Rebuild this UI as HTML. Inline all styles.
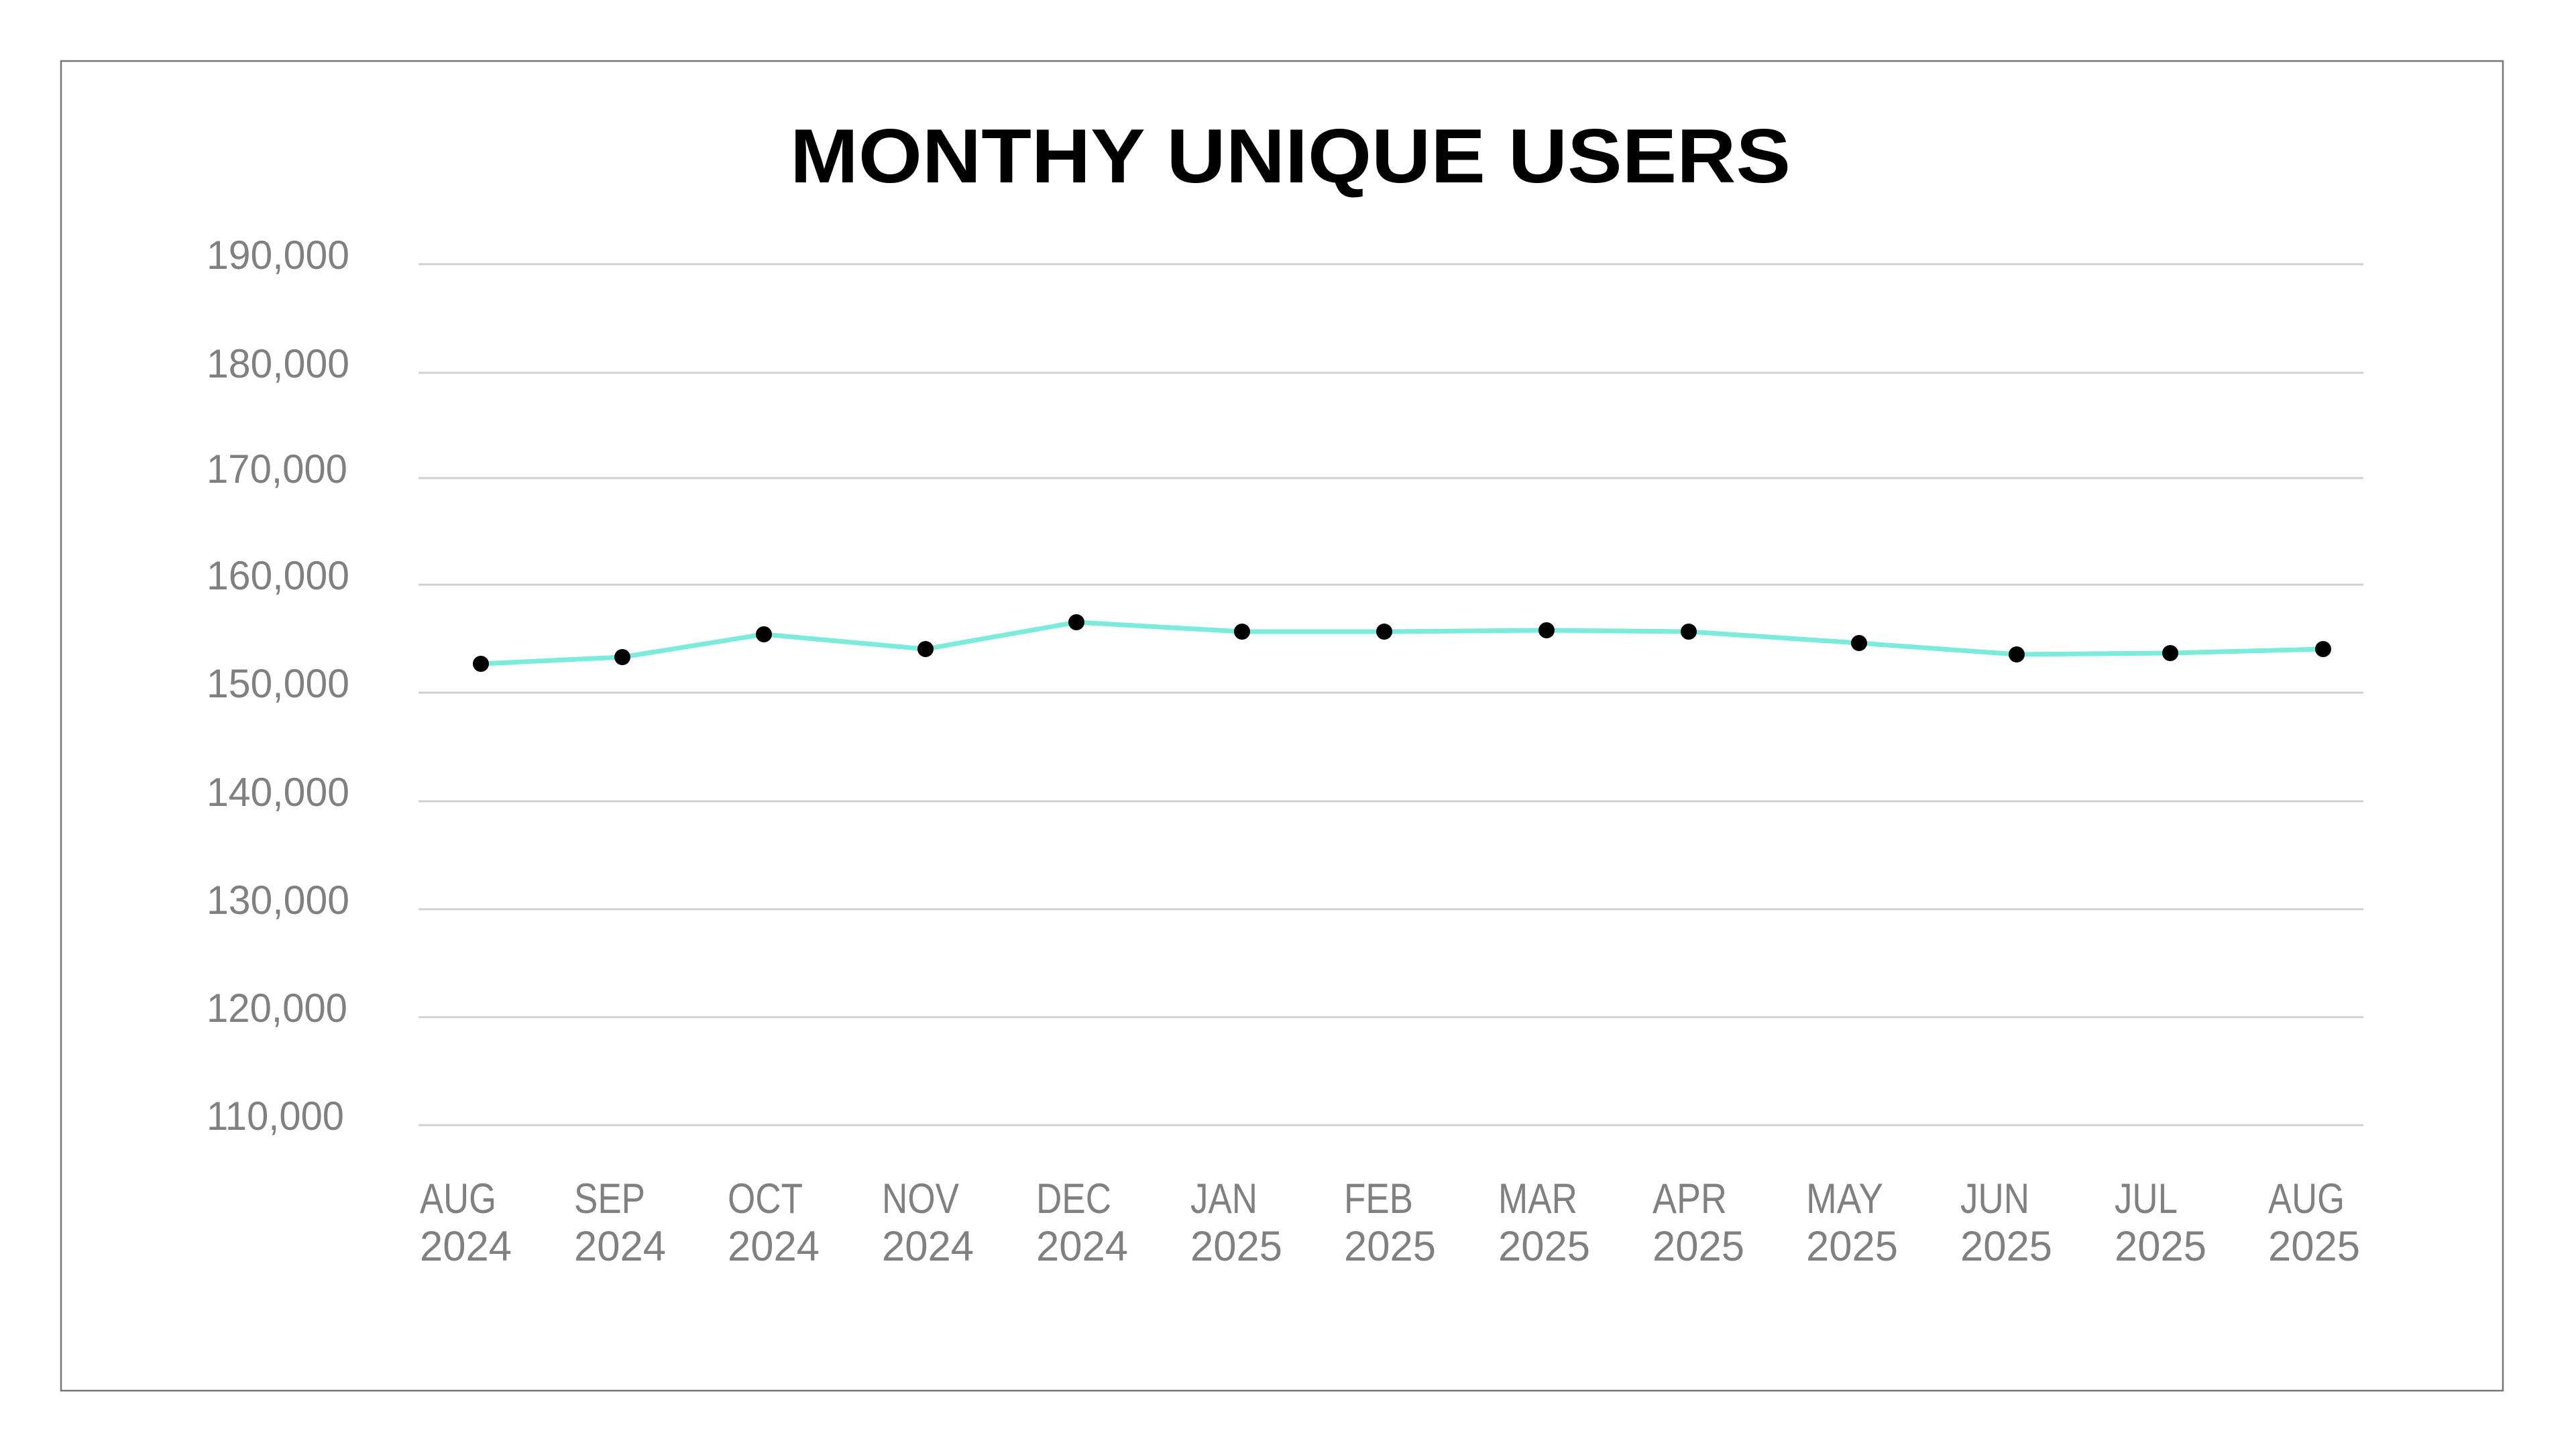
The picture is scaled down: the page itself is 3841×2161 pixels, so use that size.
<!DOCTYPE html>
<html><head><meta charset="utf-8"><style>
html,body{margin:0;padding:0;background:#fff;}
svg{display:block;}
</style></head><body>
<svg width="3841" height="2161" viewBox="0 0 3841 2161" xmlns="http://www.w3.org/2000/svg">
<rect x="0" y="0" width="3841" height="2161" fill="#fff"/>
<rect x="91" y="91" width="3641" height="1983" fill="none" stroke="#777" stroke-width="2.5"/>
<text x="1178" y="272" font-family="Liberation Sans, sans-serif" font-weight="bold" font-size="114" textLength="1492" lengthAdjust="spacingAndGlyphs" fill="#000">MONTHY UNIQUE USERS</text>
<g stroke="#d0d0d0" stroke-width="3">
<line x1="624" x2="3524" y1="394" y2="394"/>
<line x1="624" x2="3524" y1="556" y2="556"/>
<line x1="624" x2="3524" y1="713" y2="713"/>
<line x1="624" x2="3524" y1="872" y2="872"/>
<line x1="624" x2="3524" y1="1033" y2="1033"/>
<line x1="624" x2="3524" y1="1195" y2="1195"/>
<line x1="624" x2="3524" y1="1356" y2="1356"/>
<line x1="624" x2="3524" y1="1517" y2="1517"/>
<line x1="624" x2="3524" y1="1678" y2="1678"/>
</g>
<g font-family="Liberation Sans, sans-serif" font-size="60" fill="#808080">
<text x="308" y="401" textLength="213" lengthAdjust="spacingAndGlyphs">190,000</text>
<text x="308" y="563" textLength="213" lengthAdjust="spacingAndGlyphs">180,000</text>
<text x="308" y="720" textLength="210" lengthAdjust="spacingAndGlyphs">170,000</text>
<text x="308" y="879" textLength="213" lengthAdjust="spacingAndGlyphs">160,000</text>
<text x="308" y="1040" textLength="213" lengthAdjust="spacingAndGlyphs">150,000</text>
<text x="308" y="1202" textLength="213" lengthAdjust="spacingAndGlyphs">140,000</text>
<text x="308" y="1363" textLength="213" lengthAdjust="spacingAndGlyphs">130,000</text>
<text x="308" y="1524" textLength="210" lengthAdjust="spacingAndGlyphs">120,000</text>
<text x="308" y="1685" textLength="205" lengthAdjust="spacingAndGlyphs">110,000</text>
</g>
<g font-family="Liberation Sans, sans-serif" font-size="63" fill="#808080" lengthAdjust="spacingAndGlyphs">
<text x="626" y="1809" textLength="114" lengthAdjust="spacingAndGlyphs">AUG</text><text x="626" y="1880" textLength="137" lengthAdjust="spacingAndGlyphs">2024</text>
<text x="856" y="1809" textLength="106" lengthAdjust="spacingAndGlyphs">SEP</text><text x="856" y="1880" textLength="137" lengthAdjust="spacingAndGlyphs">2024</text>
<text x="1085" y="1809" textLength="112" lengthAdjust="spacingAndGlyphs">OCT</text><text x="1085" y="1880" textLength="137" lengthAdjust="spacingAndGlyphs">2024</text>
<text x="1315" y="1809" textLength="115" lengthAdjust="spacingAndGlyphs">NOV</text><text x="1315" y="1880" textLength="137" lengthAdjust="spacingAndGlyphs">2024</text>
<text x="1545" y="1809" textLength="112" lengthAdjust="spacingAndGlyphs">DEC</text><text x="1545" y="1880" textLength="137" lengthAdjust="spacingAndGlyphs">2024</text>
<text x="1775" y="1809" textLength="100" lengthAdjust="spacingAndGlyphs">JAN</text><text x="1775" y="1880" textLength="137" lengthAdjust="spacingAndGlyphs">2025</text>
<text x="2004" y="1809" textLength="103" lengthAdjust="spacingAndGlyphs">FEB</text><text x="2004" y="1880" textLength="137" lengthAdjust="spacingAndGlyphs">2025</text>
<text x="2234" y="1809" textLength="118" lengthAdjust="spacingAndGlyphs">MAR</text><text x="2234" y="1880" textLength="137" lengthAdjust="spacingAndGlyphs">2025</text>
<text x="2464" y="1809" textLength="111" lengthAdjust="spacingAndGlyphs">APR</text><text x="2464" y="1880" textLength="137" lengthAdjust="spacingAndGlyphs">2025</text>
<text x="2693" y="1809" textLength="115" lengthAdjust="spacingAndGlyphs">MAY</text><text x="2693" y="1880" textLength="137" lengthAdjust="spacingAndGlyphs">2025</text>
<text x="2923" y="1809" textLength="103" lengthAdjust="spacingAndGlyphs">JUN</text><text x="2923" y="1880" textLength="137" lengthAdjust="spacingAndGlyphs">2025</text>
<text x="3153" y="1809" textLength="94" lengthAdjust="spacingAndGlyphs">JUL</text><text x="3153" y="1880" textLength="137" lengthAdjust="spacingAndGlyphs">2025</text>
<text x="3382" y="1809" textLength="114" lengthAdjust="spacingAndGlyphs">AUG</text><text x="3382" y="1880" textLength="137" lengthAdjust="spacingAndGlyphs">2025</text>
</g>
<polyline fill="none" stroke="#7BEBDB" stroke-width="7" stroke-linejoin="round" points="717,990 928,980 1139,946 1380,968 1605,928 1852,942 2064,942 2306,940 2518,942 2772,959 3007,976 3236,974 3464,968"/>
<g fill="#000">
<circle cx="717" cy="990" r="12"/><circle cx="928" cy="980" r="12"/><circle cx="1139" cy="946" r="12"/>
<circle cx="1380" cy="968" r="12"/><circle cx="1605" cy="928" r="12"/><circle cx="1852" cy="942" r="12"/>
<circle cx="2064" cy="942" r="12"/><circle cx="2306" cy="940" r="12"/><circle cx="2518" cy="942" r="12"/>
<circle cx="2772" cy="959" r="12"/><circle cx="3007" cy="976" r="12"/><circle cx="3236" cy="974" r="12"/>
<circle cx="3464" cy="968" r="12"/>
</g>
</svg>
</body></html>
